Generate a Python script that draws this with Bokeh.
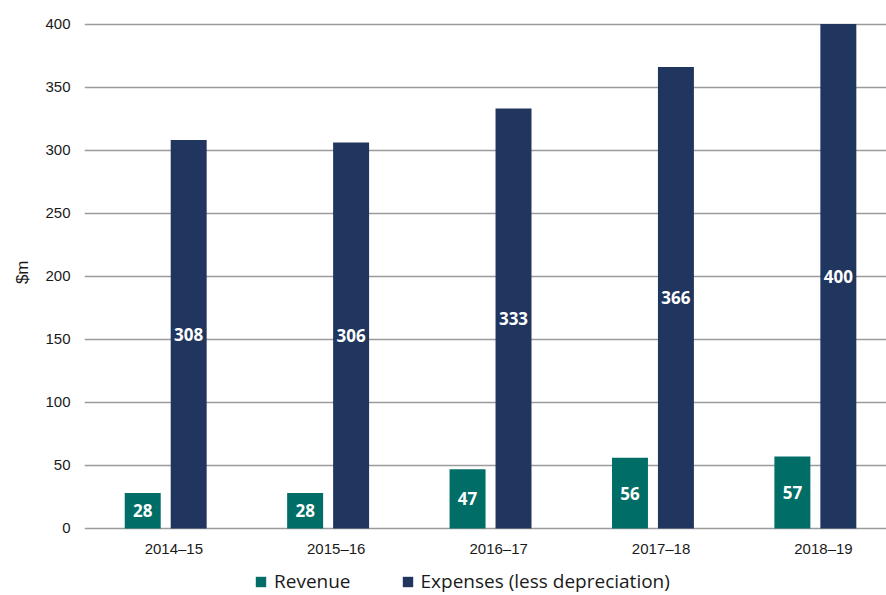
from bokeh.plotting import figure
from bokeh.models import Range1d, FixedTicker, Legend, LegendItem, ColumnDataSource, LabelSet, Title
from bokeh.core.properties import value
from bokeh.embed import file_html
from bokeh.resources import INLINE

years = ["2014–15", "2015–16", "2016–17", "2017–18", "2018–19"]
revenue = [28, 28, 47, 56, 57]
expenses = [308, 306, 333, 366, 400]
y_ticks = [0, 50, 100, 150, 200, 250, 300, 350, 400]

TEAL = "#006d66"
NAVY = "#21365f"
GRID = "#9b9b9b"

idx = list(range(len(years)))
off = 0.1415
bw = 0.2215

rev_src = ColumnDataSource(dict(
    x=[i - off for i in idx], top=revenue, mid=[v / 2 for v in revenue],
    lab=[str(v) for v in revenue]))
exp_src = ColumnDataSource(dict(
    x=[i + off for i in idx], top=expenses, mid=[v / 2 for v in expenses],
    lab=[str(v) for v in expenses]))
cat_src = ColumnDataSource(dict(x=[i + 0.05 for i in idx], y=[0] * len(idx), lab=years))

# frame reaches the bottom of the page; the area below 0 holds the
# category labels and the legend
p = figure(frame_width=802, frame_height=574,
           x_range=Range1d(-0.5, 4.438), y_range=Range1d(-53.2, 402),
           output_backend="svg", toolbar_location=None,
           min_border_left=84, min_border_right=0, min_border_top=21,
           min_border_bottom=0, outline_line_color=None,
           background_fill_color="white", border_fill_color="white")

r_rev = p.vbar(x="x", top="top", width=bw, bottom=0, source=rev_src,
               fill_color=TEAL, line_color=None)
r_exp = p.vbar(x="x", top="top", width=bw, bottom=0, source=exp_src,
               fill_color=NAVY, line_color=None)

for src in (rev_src, exp_src):
    p.add_layout(LabelSet(x="x", y="mid", text="lab", source=src,
                          text_color="white", text_font=value("Open Sans"),
                          text_font_style="bold", text_font_size="17px",
                          text_align="center", text_baseline="middle"))

# category labels under the zero line
p.add_layout(LabelSet(x="x", y="y", text="lab", source=cat_src, y_offset=-12,
                      text_color="#1a1a1a", text_font=value("Liberation Sans"),
                      text_font_size="15px", text_align="center",
                      text_baseline="top"))

# y axis
p.yaxis.ticker = FixedTicker(ticks=y_ticks)
p.yaxis.axis_line_color = None
p.yaxis.major_tick_line_color = None
p.yaxis.minor_tick_line_color = None
p.yaxis.major_tick_out = 0
p.yaxis.major_tick_in = 0
p.yaxis.major_label_text_font = "Liberation Sans"
p.yaxis.major_label_text_font_size = "15px"
p.yaxis.major_label_text_color = "#1a1a1a"
p.yaxis.major_label_standoff = 14

p.add_layout(Title(text="$m", align="right", offset=239, vertical_align="top",
                   text_font="Liberation Sans", text_font_style="normal",
                   text_font_size="17px", text_color="#1a1a1a", standoff=18),
             "left")

p.xaxis.visible = False
p.xgrid.grid_line_color = None
p.ygrid.grid_line_color = GRID
p.ygrid.grid_line_width = 1.5

legend = Legend(items=[LegendItem(label="Revenue", renderers=[r_rev]),
                       LegendItem(label="Expenses (less depreciation)", renderers=[r_exp])],
                location=(170, 1), orientation="horizontal",
                label_text_font="Open Sans", label_text_font_size="19px",
                label_text_color="#1a1a1a", label_height=14,
                glyph_width=13, glyph_height=13, label_standoff=7,
                spacing=50, padding=0, margin=0,
                border_line_color=None, background_fill_alpha=0)
p.add_layout(legend, "center")

open("out.html", "w").write(file_html(p, INLINE))
